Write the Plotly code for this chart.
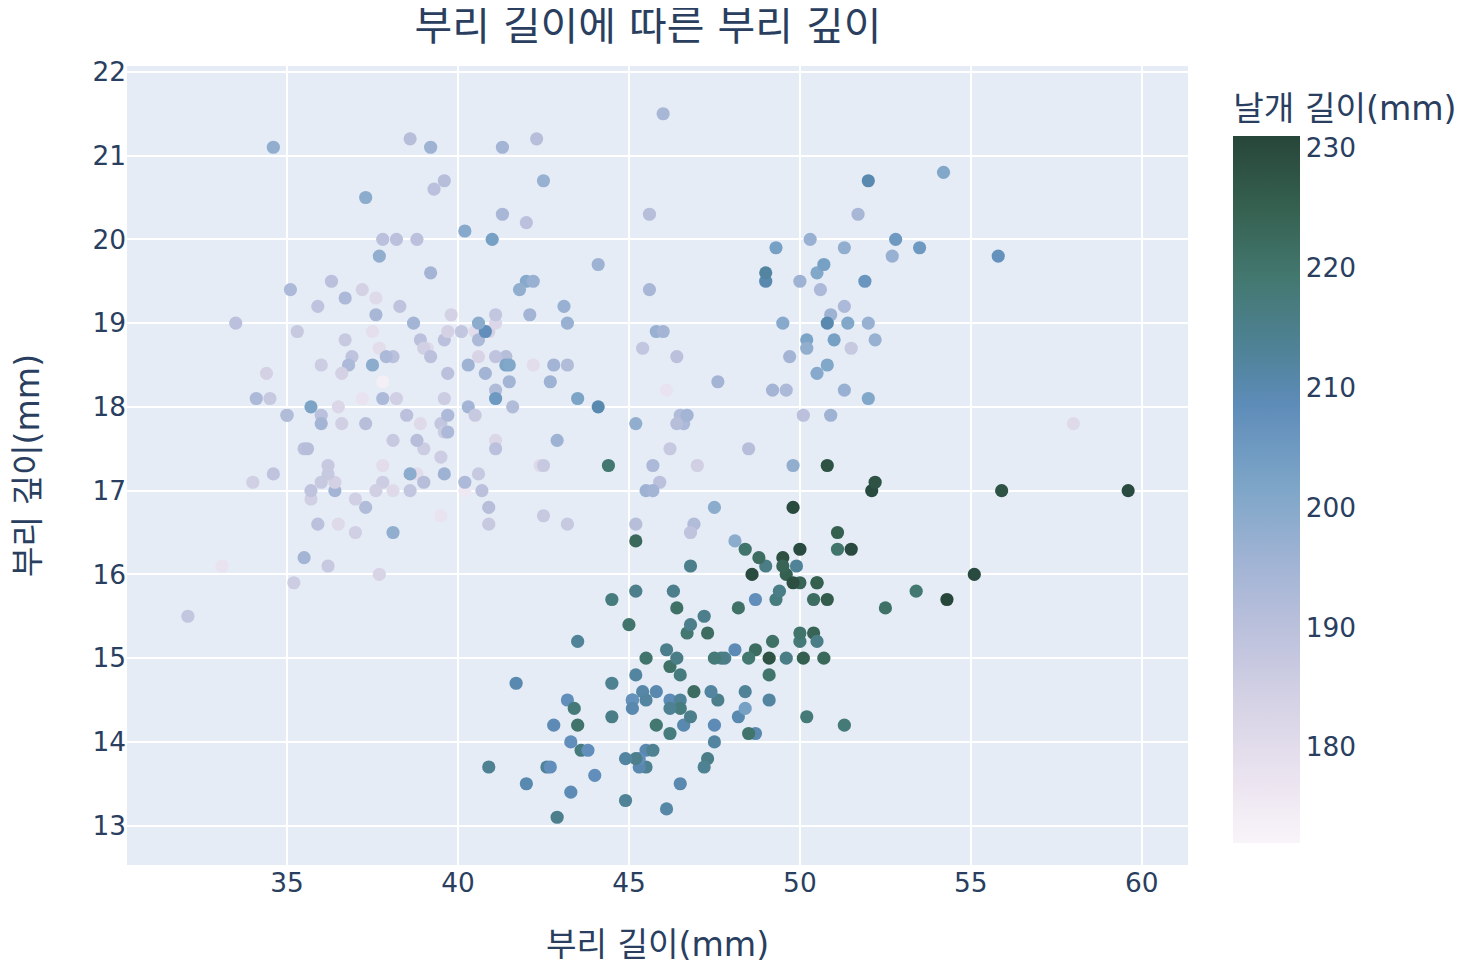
import plotly.graph_objects as go

# Adelie, Gentoo, Chinstrap (dataset order)
bill_length = [
    39.1, 39.5, 40.3, 36.7, 39.3, 38.9, 39.2, 34.1, 42.0, 37.8, 37.8, 41.1, 38.6, 34.6, 36.6, 38.7,
    42.5, 34.4, 46.0, 37.8, 37.7, 35.9, 38.2, 38.8, 35.3, 40.6, 40.5, 37.9, 40.5, 39.5, 37.2, 39.5,
    40.9, 36.4, 39.2, 38.8, 42.2, 37.6, 39.8, 36.5, 40.8, 36.0, 44.1, 37.0, 39.6, 41.1, 37.5, 36.0,
    42.3, 39.6, 40.1, 35.0, 42.0, 34.5, 41.4, 39.0, 40.6, 36.5, 37.6, 35.7, 41.3, 37.6, 41.1, 36.4,
    41.6, 35.5, 41.1, 35.9, 41.8, 33.5, 39.7, 39.6, 45.8, 35.5, 42.8, 40.9, 37.2, 36.2, 42.1, 34.6,
    42.9, 36.7, 35.1, 37.3, 41.3, 36.3, 36.9, 38.3, 38.9, 35.7, 41.1, 34.0, 39.6, 36.2, 40.8, 38.1,
    40.3, 33.1, 43.2, 35.0, 41.0, 37.7, 37.8, 37.9, 39.7, 38.6, 38.2, 38.1, 43.2, 38.1, 45.6, 39.7,
    42.2, 39.6, 42.7, 38.6, 37.3, 35.7, 41.1, 36.2, 37.7, 40.2, 41.4, 35.2, 40.6, 38.8, 41.5, 39.0,
    44.1, 38.5, 43.1, 36.8, 37.5, 38.1, 41.1, 35.6, 40.2, 37.0, 39.7, 40.2, 40.6, 32.1, 40.7, 37.3,
    39.0, 39.2, 36.6, 36.0, 37.8, 36.0, 41.5,
    46.1, 50.0, 48.7, 50.0, 47.6, 46.5, 45.4, 46.7, 43.3, 46.8, 40.9, 49.0, 45.5, 48.4, 45.8, 49.3,
    42.0, 49.2, 46.2, 48.7, 50.2, 45.1, 46.5, 46.3, 42.9, 46.1, 44.5, 47.8, 48.2, 50.0, 47.3, 42.8,
    45.1, 59.6, 49.1, 48.4, 42.6, 44.4, 44.0, 48.7, 42.7, 49.6, 45.3, 49.6, 50.5, 43.6, 45.5, 50.5,
    44.9, 45.2, 46.6, 48.5, 45.1, 50.1, 46.5, 45.0, 43.8, 45.5, 43.2, 50.4, 45.3, 46.2, 45.7, 54.3,
    45.8, 49.8, 46.2, 49.5, 43.5, 50.7, 47.7, 46.4, 48.2, 46.5, 46.4, 48.6, 47.5, 51.1, 45.2, 45.2,
    49.1, 52.5, 47.4, 50.0, 44.9, 50.8, 43.4, 51.3, 47.5, 52.1, 47.5, 52.2, 45.5, 49.5, 44.5, 50.8,
    49.4, 46.9, 48.4, 51.1, 48.5, 55.9, 47.2, 49.1, 47.3, 46.8, 41.7, 53.4, 43.3, 48.1, 50.5, 49.8,
    43.5, 51.5, 46.2, 55.1, 44.5, 48.8, 47.2, 46.8, 50.4, 45.2, 49.9,
    46.5, 50.0, 51.3, 45.4, 52.7, 45.2, 46.1, 51.3, 46.0, 51.3, 46.6, 51.7, 47.0, 52.0, 45.9, 50.5,
    50.3, 58.0, 46.4, 49.2, 42.4, 48.5, 43.2, 50.6, 46.7, 52.0, 50.5, 49.5, 46.4, 52.8, 40.9, 54.2,
    42.5, 51.0, 49.7, 47.5, 47.6, 52.0, 46.9, 53.5, 49.0, 46.2, 50.9, 45.5, 50.9, 50.8, 50.1, 49.0,
    51.5, 49.8, 48.1, 51.4, 45.7, 50.7, 42.5, 52.2, 45.2, 49.3, 50.2, 45.6, 51.9, 46.8, 45.7, 55.8,
    43.5, 49.6, 50.8, 50.2,
]

bill_depth = [
    18.7, 17.4, 18.0, 19.3, 20.6, 17.8, 19.6, 18.1, 20.2, 17.1, 17.3, 17.6, 21.2, 21.1, 17.8, 19.0,
    20.7, 18.4, 21.5, 18.3, 18.7, 19.2, 18.1, 17.2, 18.9, 18.6, 17.9, 18.6, 18.9, 16.7, 18.1, 17.8,
    18.9, 17.0, 21.1, 20.0, 18.5, 19.3, 19.1, 18.0, 18.4, 18.5, 19.7, 16.9, 18.8, 19.0, 18.9, 17.9,
    21.2, 17.7, 18.9, 17.9, 19.5, 18.1, 18.6, 17.5, 18.8, 16.6, 19.1, 16.9, 21.1, 17.0, 18.2, 17.1,
    18.0, 16.2, 19.1, 16.6, 19.4, 19.0, 18.4, 17.2, 18.9, 17.5, 18.5, 16.8, 19.4, 16.1, 19.1, 17.2,
    17.6, 18.8, 19.4, 17.8, 20.3, 19.5, 18.6, 19.2, 18.8, 18.0, 18.1, 17.1, 18.1, 17.3, 18.9, 18.6,
    18.5, 16.1, 18.5, 17.9, 20.0, 16.0, 20.0, 18.6, 18.9, 17.2, 20.0, 17.0, 19.0, 16.5, 20.3, 17.7,
    19.5, 20.7, 18.3, 17.0, 20.5, 17.0, 18.6, 17.2, 19.8, 17.0, 18.5, 15.9, 19.0, 17.6, 18.3, 17.1,
    18.0, 17.9, 19.2, 18.5, 18.5, 17.6, 17.5, 17.5, 20.1, 16.5, 17.9, 17.1, 17.2, 15.5, 17.0, 16.8,
    18.7, 18.6, 18.4, 17.8, 18.1, 17.1, 18.5,
    13.2, 16.3, 14.1, 15.2, 14.5, 13.5, 14.6, 15.3, 13.4, 15.4, 13.7, 16.1, 13.7, 14.6, 14.6, 15.7,
    13.5, 15.2, 14.5, 15.1, 14.3, 14.5, 14.5, 15.8, 13.1, 15.1, 14.3, 15.0, 14.3, 15.3, 15.3, 14.2,
    14.5, 17.0, 14.8, 16.3, 13.7, 17.3, 13.6, 15.7, 13.7, 16.0, 13.7, 15.0, 15.9, 13.9, 13.9, 15.9,
    13.3, 15.8, 14.2, 14.1, 14.4, 15.0, 14.4, 15.4, 13.9, 15.0, 14.5, 15.3, 13.8, 14.9, 13.9, 15.7,
    14.2, 16.8, 14.4, 16.2, 14.2, 15.0, 15.0, 15.6, 15.6, 14.8, 15.0, 16.0, 14.2, 16.3, 13.8, 16.4,
    14.5, 15.6, 14.6, 15.9, 13.8, 17.3, 14.4, 14.2, 14.0, 17.0, 15.0, 17.1, 14.5, 16.1, 14.7, 15.7,
    15.8, 14.6, 14.4, 16.5, 15.0, 17.0, 15.5, 15.0, 13.8, 16.1, 14.7, 15.8, 14.0, 15.1, 15.2, 15.9,
    15.2, 16.3, 14.1, 16.0, 15.7, 16.2, 13.7, 14.3, 15.7, 14.8, 16.1,
    17.9, 19.5, 19.2, 18.7, 19.8, 17.8, 18.2, 18.2, 18.9, 19.9, 17.8, 20.3, 17.3, 18.1, 17.1, 19.6,
    20.0, 17.8, 18.6, 18.2, 17.3, 17.5, 16.6, 19.4, 17.9, 19.0, 18.4, 19.0, 17.8, 20.0, 16.6, 20.8,
    16.7, 18.8, 18.6, 16.8, 18.3, 20.7, 16.6, 19.9, 19.5, 17.5, 19.1, 17.0, 17.9, 18.5, 17.9, 19.6,
    18.7, 17.3, 16.4, 19.0, 17.3, 19.7, 17.3, 18.8, 16.6, 19.9, 18.8, 19.4, 19.5, 16.5, 17.0, 19.8,
    18.1, 18.2, 19.0, 18.7,
]

flipper_length = [
    181, 186, 195, 193, 190, 181, 195, 193, 190, 186, 180, 182, 191, 198, 185, 195,
    197, 184, 194, 174, 180, 189, 185, 180, 187, 183, 187, 172, 180, 178, 178, 188,
    184, 195, 196, 190, 180, 181, 184, 182, 195, 186, 196, 185, 190, 182, 179, 190,
    191, 186, 188, 190, 200, 187, 191, 186, 193, 181, 194, 185, 195, 185, 192, 184,
    192, 195, 188, 190, 198, 190, 190, 196, 197, 190, 195, 191, 184, 187, 195, 189,
    196, 187, 193, 191, 194, 190, 189, 189, 190, 202, 205, 185, 186, 187, 208, 190,
    196, 178, 192, 192, 203, 183, 190, 193, 184, 199, 190, 181, 197, 198, 191, 193,
    197, 191, 196, 188, 199, 189, 189, 187, 198, 176, 202, 186, 199, 191, 195, 191,
    210, 190, 197, 193, 199, 187, 190, 191, 200, 185, 193, 193, 187, 188, 190, 192,
    185, 190, 184, 195, 193, 187, 201,
    211, 230, 210, 218, 215, 210, 211, 219, 209, 215, 214, 216, 214, 213, 210, 217,
    210, 221, 209, 222, 218, 215, 213, 215, 215, 215, 216, 215, 210, 220, 222, 209,
    207, 230, 220, 220, 213, 219, 208, 208, 208, 225, 210, 216, 222, 217, 210, 225,
    213, 215, 210, 220, 210, 225, 217, 220, 208, 220, 208, 224, 208, 221, 214, 231,
    219, 230, 214, 229, 220, 223, 216, 221, 221, 217, 216, 230, 209, 220, 215, 223,
    212, 221, 212, 224, 212, 228, 218, 218, 212, 230, 218, 228, 212, 224, 214, 226,
    216, 222, 203, 225, 219, 228, 215, 228, 216, 215, 210, 219, 208, 209, 216, 229,
    213, 230, 217, 230, 217, 222, 214, 215, 222, 212, 213,
    192, 196, 193, 188, 197, 198, 178, 197, 195, 198, 193, 194, 185, 201, 190, 201,
    197, 181, 190, 195, 181, 191, 187, 193, 195, 197, 200, 200, 191, 205, 187, 201,
    187, 203, 195, 199, 195, 210, 192, 205, 210, 187, 196, 196, 196, 201, 190, 212,
    187, 198, 199, 201, 193, 203, 187, 197, 191, 203, 202, 194, 206, 189, 195, 207,
    202, 193, 210, 198,
]

colorbar_ticks = [180, 190, 200, 210, 220, 230]

colorscale = [
    [0.0, "#f9f4f9"], [0.1, "#e9e2ef"], [0.2, "#d5d2e5"], [0.3, "#bcc1dc"],
    [0.4, "#a0b3d4"], [0.5, "#7ea6c8"], [0.62, "#5e8cb9"], [0.7, "#4f8296"],
    [0.8, "#437870"], [0.9, "#35604f"], [1.0, "#27463a"],
]

S = 2.2
FONT = "DejaVu Sans, Noto Sans CJK KR, sans-serif"
TITLE_SIZE = 41
AXIS_TITLE_SIZE = 33.2

fig = go.Figure(go.Scatter(
    x=bill_length, y=bill_depth, mode="markers",
    marker=dict(
        size=6 * S, color=flipper_length, colorscale=colorscale, cmin=172, cmax=231,
        showscale=True,
        colorbar=dict(
            title=dict(text="날개 길이(mm)", font=dict(size=AXIS_TITLE_SIZE)),
            thickness=67, x=1.022, xpad=10 * S, ypad=10 * S, ticklen=0,
            y=0, yanchor="bottom", len=0.995,
            tickvals=colorbar_ticks, tickfont=dict(size=12 * S),
            outlinewidth=0,
        ),
    ),
    showlegend=False,
))

fig.update_layout(
    template="plotly",
    width=1474, height=974,
    margin=dict(l=119, r=294, t=58, b=117, autoexpand=False),
    title=dict(text="부리 길이에 따른 부리 깊이", x=0.491, xref="paper", xanchor="center",
               y=0.982, yanchor="middle", font=dict(size=TITLE_SIZE)),
    font=dict(family=FONT, size=12 * S, color="#2a3f5f"),
    xaxis=dict(title=dict(text="부리 길이(mm)", font=dict(size=AXIS_TITLE_SIZE), standoff=35),
               range=[30.32, 61.35], dtick=5, tickfont=dict(size=12 * S),
               gridwidth=S, zeroline=False),
    yaxis=dict(title=dict(text="부리 깊이(mm)", font=dict(size=AXIS_TITLE_SIZE), standoff=42),
               range=[12.53, 22.07], dtick=1, tickfont=dict(size=12 * S),
               gridwidth=S, zeroline=False),
)

fig.write_html("out.html")
